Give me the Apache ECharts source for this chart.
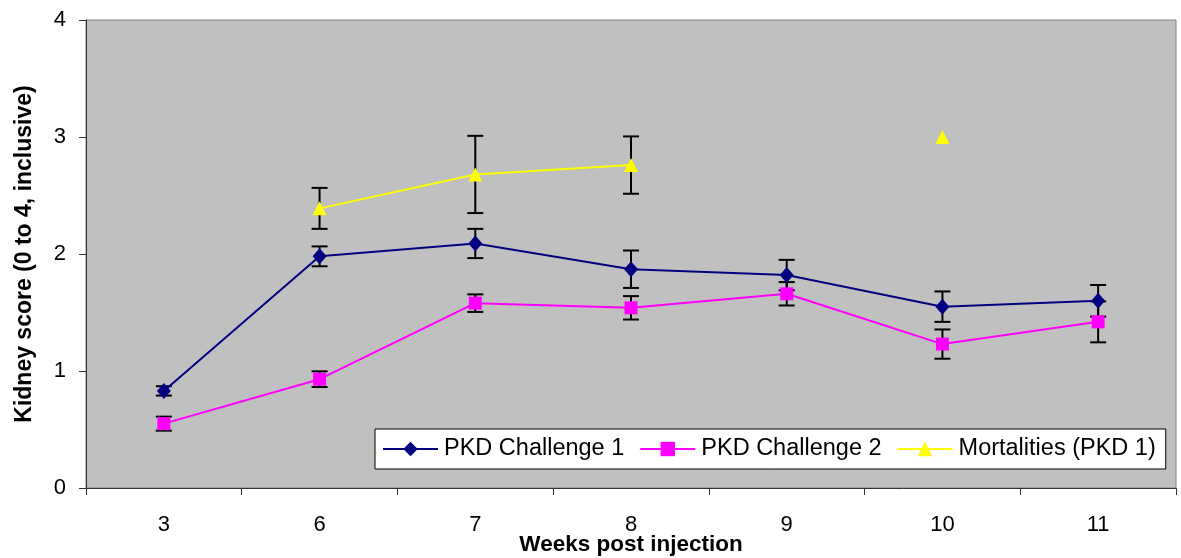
<!DOCTYPE html>
<html><head><meta charset="utf-8">
<script src="https://cdn.jsdelivr.net/npm/echarts@6/dist/echarts.min.js"></script>
<style>html,body{margin:0;padding:0;background:#fff}#c{width:1181px;height:558px}</style>
</head><body><div id="c"></div>
<script>
const weeks = ['3','6','7','8','9','10','11'];
const pkd1 = [0.83, 1.98, 2.09, 1.87, 1.82, 1.55, 1.60];
const pkd1Err = [0.04, 0.085, 0.125, 0.16, 0.13, 0.13, 0.135];
const pkd2 = [0.55, 0.93, 1.58, 1.54, 1.66, 1.23, 1.42];
const pkd2Err = [0.06, 0.067, 0.075, 0.10, 0.10, 0.125, 0.175];
const mort = [null, 2.39, 2.68, 2.76, null, 3.0, null];
const mortErr = [null, 0.175, 0.33, 0.245, null, null, null];
const yTicks = [0, 1, 2, 3, 4];

function errData(vals, errs) {
  const out = [];
  vals.forEach((v, i) => { if (v != null && errs[i] != null) out.push([i, v - errs[i], v + errs[i]]); });
  return out;
}
function errSeries(vals, errs) {
  return {
    type: 'custom', silent: true, z: 1,
    data: errData(vals, errs),
    encode: { x: 0, y: [1, 2] },
    renderItem: function (params, api) {
      const x = api.coord([api.value(0), api.value(1)])[0];
      const lo = api.coord([api.value(0), api.value(1)])[1];
      const hi = api.coord([api.value(0), api.value(2)])[1];
      const hw = 8;
      const st = { stroke: '#000', lineWidth: 2 };
      return { type: 'group', children: [
        { type: 'line', shape: { x1: x, y1: lo, x2: x, y2: hi }, style: st },
        { type: 'line', shape: { x1: x - hw, y1: lo, x2: x + hw, y2: lo }, style: st },
        { type: 'line', shape: { x1: x - hw, y1: hi, x2: x + hw, y2: hi }, style: st }
      ]};
    }
  };
}

const chart = echarts.init(document.getElementById('c'));
const font = 'Liberation Sans, Arial, sans-serif';
chart.setOption({
  animation: false,
  textStyle: { fontFamily: font },
  grid: { left: 86, right: 5, top: 20, bottom: 70, containLabel: false, outerBoundsMode: 'none',
    show: true, backgroundColor: '#c0c0c0', borderColor: '#808080', borderWidth: 1 },
  legend: {
    data: ['PKD Challenge 1', 'PKD Challenge 2', 'Mortalities (PKD 1)'],
    left: 375, top: 429,
    backgroundColor: '#fff', borderColor: '#000', borderWidth: 1,
    padding: [8, 10, 8, 7], itemGap: 15, itemWidth: 55, itemHeight: 18,
    textStyle: { fontSize: 23.5, color: '#000', fontFamily: font, padding: [0, 0, 0, 1] }
  },
  xAxis: {
    type: 'category', data: weeks, boundaryGap: true,
    name: 'Weeks post injection', nameLocation: 'middle', nameGap: 45, nameMoveOverlap: false,
    nameTextStyle: { fontSize: 22.5, fontWeight: 'bold', color: '#000', fontFamily: font },
    axisLine: { lineStyle: { color: '#333', width: 1 } },
    axisTick: { show: true, length: 7, alignWithLabel: false, lineStyle: { color: '#333' } },
    axisLabel: { fontSize: 22, color: '#000', margin: 26, fontFamily: font },
    splitLine: { show: false }
  },
  yAxis: {
    type: 'value', min: yTicks[0], max: yTicks[yTicks.length - 1], interval: 1,
    name: 'Kidney score (0 to 4, inclusive)', nameLocation: 'middle', nameGap: 50, nameRotate: 90, nameMoveOverlap: false,
    nameTextStyle: { fontSize: 23, fontWeight: 'bold', color: '#000', fontFamily: font },
    axisLine: { show: true, lineStyle: { color: '#333' } },
    axisTick: { show: true, length: 7, lineStyle: { color: '#333' } },
    axisLabel: { fontSize: 22, color: '#000', margin: 20, fontFamily: font },
    splitLine: { show: false }
  },
  series: [
    errSeries(pkd1, pkd1Err),
    errSeries(pkd2, pkd2Err),
    errSeries(mort, mortErr),
    { name: 'PKD Challenge 1', type: 'line', data: pkd1, symbol: 'diamond', symbolSize: [14, 16], z: 3,
      lineStyle: { color: '#000080', width: 2 }, itemStyle: { color: '#000080' } },
    { name: 'PKD Challenge 2', type: 'line', data: pkd2, symbol: 'rect', symbolSize: 13, z: 3,
      lineStyle: { color: '#ff00ff', width: 2 }, itemStyle: { color: '#ff00ff' } },
    { name: 'Mortalities (PKD 1)', type: 'line', data: mort, symbol: 'triangle', symbolSize: 14, z: 3, connectNulls: false,
      lineStyle: { color: '#ffff00', width: 2 }, itemStyle: { color: '#ffff00' } }
  ]
});
</script></body></html>
